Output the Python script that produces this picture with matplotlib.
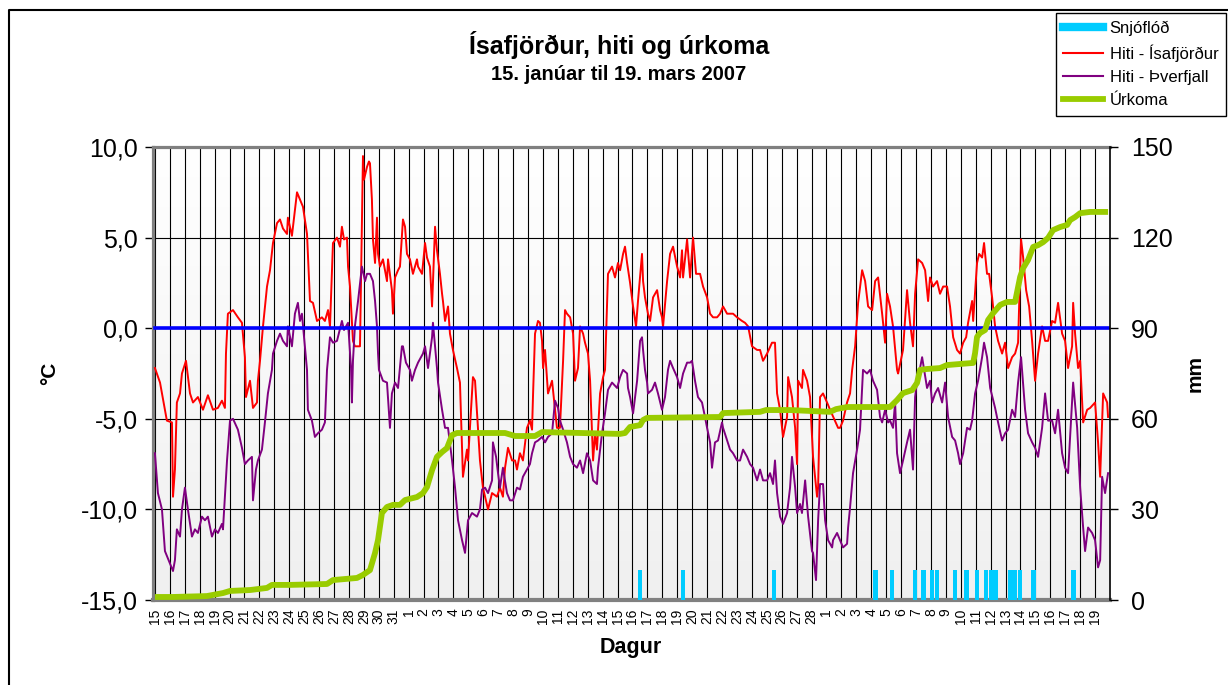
import numpy as np
import matplotlib
matplotlib.use("Agg")
import matplotlib.pyplot as plt
from matplotlib.lines import Line2D

plt.rcParams['font.family'] = ['Liberation Sans', 'DejaVu Sans']

# ---------------- data (time in days since 15 Jan 2007 00:00) ----------------
day_labels = [str(d) for d in range(15, 32)] + [str(d) for d in range(1, 29)] + [str(d) for d in range(1, 20)]

# Hiti - Ísafjörður (°C)
red_points = [
    (0, -2.2), (0.34, -3.0), (0.80, -5.1), (1.14, -5.2), (1.21, -9.3), (1.34, -7.8), (1.47, -4.1), (1.68, -3.6),
    (1.81, -2.5), (2.08, -1.8), (2.35, -3.6), (2.55, -4.1), (2.88, -3.8), (3.22, -4.5), (3.55, -3.7), (3.89, -4.5),
    (4.22, -4.4), (4.49, -4.0), (4.69, -4.4), (4.76, -1.4), (4.89, 0.8), (5.23, 1.0), (5.56, 0.6), (5.83, 0.3),
    (6.03, -1.6), (6.10, -3.8), (6.37, -2.9), (6.57, -4.4), (6.84, -4.1), (6.90, -2.9), (7.04, -1.8), (7.24, 0.1),
    (7.51, 2.3), (7.71, 3.2), (7.91, 4.7), (8.18, 5.8), (8.38, 6.0), (8.58, 5.5), (8.85, 5.2), (8.91, 6.1),
    (9.18, 5.1), (9.52, 7.5), (9.72, 7.1), (9.92, 6.7), (10.19, 5.2), (10.39, 1.5), (10.59, 1.4), (10.86, 0.4),
    (11.19, 0.6), (11.39, 0.4), (11.60, 1.0), (11.73, 0.1), (11.93, 4.7), (12.20, 5.0), (12.40, 4.5), (12.53, 5.6),
    (12.67, 4.9), (12.87, 5.0), (12.94, 3.4), (13.07, 2.3), (13.27, -0.7), (13.40, -1.0), (13.74, -1.0), (13.94, 9.5),
    (14.01, 8.2), (14.21, 8.9), (14.34, 9.2), (14.41, 9.1), (14.54, 7.1), (14.61, 4.9), (14.75, 3.6), (14.88, 6.1),
    (14.95, 4.1), (15.08, 3.4), (15.28, 3.8), (15.55, 2.6), (15.62, 3.8), (15.88, 2.1), (15.95, 0.8), (16.09, 2.8),
    (16.29, 3.2), (16.42, 3.4), (16.62, 6.0), (16.76, 5.6), (16.89, 4.1), (17.09, 3.8), (17.29, 3.0), (17.56, 3.8),
    (17.63, 3.4), (17.90, 3.0), (18.10, 4.7), (18.23, 3.9), (18.43, 3.4), (18.57, 1.2), (18.77, 5.6), (18.90, 4.3),
    (19.10, 3.0), (19.24, 1.9), (19.30, 1.5), (19.44, 0.4), (19.64, 1.2), (19.77, -0.3), (19.97, -1.2), (20.24, -2.2),
    (20.44, -3.0), (20.64, -8.2), (20.91, -6.7), (20.98, -7.3), (21.31, -2.7), (21.45, -2.9), (21.78, -7.3), (21.98, -8.8),
    (22.32, -10.0), (22.59, -9.1), (22.92, -9.3), (23.12, -8.8), (23.32, -9.3), (23.46, -7.7), (23.66, -6.6), (23.93, -7.3),
    (24.13, -7.3), (24.26, -7.8), (24.46, -6.9), (24.66, -7.3), (24.93, -5.5), (25.13, -5.1), (25.27, -5.6), (25.34, -3.6),
    (25.47, -0.3), (25.67, 0.4), (25.80, 0.3), (25.94, -0.7), (26.01, -2.2), (26.14, -1.2), (26.34, -3.6), (26.61, -2.9),
    (26.94, -5.5), (27.14, -5.5), (27.35, -1.8), (27.48, 1.0), (27.61, 0.8), (27.82, 0.6), (28.02, -0.3), (28.15, -2.9),
    (28.35, -2.2), (28.49, 0.1), (28.69, -0.3), (28.82, -0.8), (29.02, -1.4), (29.16, -2.9), (29.29, -5.8), (29.36, -7.3),
    (29.49, -5.8), (29.62, -6.7), (29.83, -3.6), (30.03, -2.7), (30.16, -2.3), (30.36, 3.0), (30.63, 3.4), (30.83, 2.8),
    (31.03, 3.6), (31.17, 3.2), (31.37, 4.1), (31.50, 4.5), (31.64, 3.6), (31.84, 2.5), (32.04, 1.2), (32.24, 0.1),
    (32.37, 1.5), (32.64, 4.1), (32.71, 2.6), (32.84, 1.7), (33.04, 0.8), (33.18, 0.4), (33.38, 1.7), (33.65, 2.1),
    (33.85, 1.0), (33.98, 0.6), (34.05, 0.1), (34.32, 2.6), (34.52, 4.1), (34.72, 4.5), (34.99, 3.4), (35.19, 2.8),
    (35.32, 4.3), (35.39, 2.8), (35.66, 4.9), (35.86, 2.8), (36.06, 5.0), (36.26, 3.0), (36.53, 3.0), (36.73, 2.3),
    (37.00, 1.7), (37.20, 0.8), (37.40, 0.6), (37.67, 0.6), (37.87, 0.8), (38.07, 1.2), (38.34, 0.8), (38.74, 0.8),
    (39.01, 0.6), (39.34, 0.4), (39.54, 0.3), (39.75, 0.1), (40.01, -1.0), (40.35, -1.2), (40.55, -1.2), (40.75, -1.8),
    (41.02, -1.4), (41.35, -0.8), (41.55, -0.8), (41.69, -3.6), (41.89, -4.5), (42.09, -6.0), (42.36, -4.9), (42.43, -2.7),
    (42.69, -3.8), (42.90, -5.5), (43.03, -7.5), (43.10, -2.9), (43.36, -3.3), (43.43, -2.3), (43.70, -2.9), (43.90, -3.8),
    (44.10, -7.1), (44.37, -9.3), (44.44, -8.8), (44.57, -3.8), (44.77, -3.6), (45.04, -4.1), (45.24, -4.5), (45.78, -5.5),
    (45.91, -5.5), (46.11, -5.1), (46.38, -4.1), (46.58, -3.6), (46.72, -2.3), (46.92, -1.0), (47.12, 1.4), (47.39, 3.2),
    (47.59, 2.6), (47.79, 1.2), (48.06, 1.0), (48.26, 2.6), (48.46, 2.8), (48.73, 0.8), (48.93, -0.8), (49.06, 1.9),
    (49.26, 1.2), (49.46, 0.1), (49.73, -2.3), (49.80, -2.5), (50.13, -1.2), (50.40, 2.1), (50.60, 0.3), (50.80, -1.0),
    (50.94, 1.9), (51.14, 3.8), (51.41, 3.6), (51.61, 3.2), (51.81, 1.5), (51.94, 2.8), (52.14, 2.3), (52.41, 2.6),
    (52.61, 1.9), (52.82, 2.3), (53.08, 2.3), (53.28, 1.2), (53.49, -0.5), (53.75, -1.2), (53.95, -1.4), (54.16, -0.8),
    (54.36, -0.5), (54.49, 0.3), (54.76, 1.5), (54.83, 0.4), (55.09, 3.6), (55.23, 4.1), (55.43, 3.9), (55.56, 4.7),
    (55.76, 3.0), (55.90, 3.0), (56.10, 1.7), (56.30, 0.1), (56.50, -0.7), (56.77, -1.4), (56.97, -0.8), (57.17, -2.2),
    (57.44, -1.6), (57.64, -1.4), (57.84, -0.8), (58.04, 4.9), (58.18, 3.9), (58.38, 2.1), (58.58, 1.2), (58.78, -0.7),
    (58.98, -2.9), (59.18, -1.4), (59.45, 0.1), (59.65, -0.7), (59.85, -0.7), (60.12, 0.4), (60.32, 0.3), (60.52, 1.4),
    (60.79, -0.3), (60.99, -0.7), (61.19, -2.2), (61.46, -1.0), (61.53, 1.4), (61.66, -0.3), (61.86, -2.2), (62.00, -1.8),
    (62.20, -5.2), (62.47, -4.5), (62.67, -4.4), (63.00, -4.1), (63.20, -6.3), (63.34, -8.2), (63.54, -3.6), (63.81, -4.1),
    (63.87, -4.9),
]

# Hiti - Þverfjall (°C)
purple_points = [
    (0, -6.9), (0.20, -9.1), (0.47, -10.0), (0.67, -12.3), (1.01, -13.0), (1.21, -13.4), (1.34, -12.8), (1.47, -11.1),
    (1.68, -11.5), (1.81, -10.0), (2.01, -8.8), (2.21, -10.0), (2.48, -11.5), (2.68, -11.1), (2.88, -11.3), (3.15, -10.4),
    (3.35, -10.6), (3.55, -10.4), (3.82, -11.5), (4.02, -11.1), (4.22, -11.3), (4.49, -10.8), (4.56, -11.1), (4.83, -7.3),
    (5.03, -5.1), (5.23, -5.0), (5.56, -5.6), (5.83, -6.6), (6.03, -7.5), (6.23, -7.3), (6.50, -7.1), (6.57, -9.5),
    (6.77, -7.8), (6.90, -7.3), (7.17, -6.7), (7.37, -5.2), (7.57, -3.6), (7.84, -2.3), (7.91, -1.4), (8.18, -0.7),
    (8.38, -0.3), (8.58, -0.7), (8.85, -1.0), (8.91, 0.1), (9.18, -1.0), (9.38, 0.8), (9.58, 1.4), (9.72, 0.4),
    (9.85, 0.8), (10.05, -1.0), (10.19, -2.3), (10.25, -4.5), (10.52, -5.1), (10.72, -6.0), (10.92, -5.8), (11.19, -5.6),
    (11.39, -5.2), (11.53, -2.3), (11.73, -0.5), (11.93, -0.8), (12.20, -0.7), (12.53, 0.4), (12.67, -0.1), (12.94, 0.3),
    (13.14, -2.2), (13.20, -4.1), (13.27, -1.8), (13.40, 0.1), (13.61, 1.5), (13.87, 3.4), (14.08, 2.6), (14.21, 3.0),
    (14.41, 3.0), (14.61, 2.6), (14.75, 1.5), (14.88, 0.1), (14.95, -1.4), (15.01, -2.3), (15.28, -2.9), (15.55, -3.0),
    (15.75, -5.5), (15.88, -3.6), (16.09, -3.0), (16.29, -3.3), (16.55, -1.0), (16.62, -1.0), (16.82, -1.9), (17.09, -2.3),
    (17.22, -2.9), (17.43, -2.3), (17.63, -1.9), (17.96, -1.4), (18.10, -1.0), (18.30, -2.2), (18.57, -0.5), (18.63, 0.3),
    (18.77, -1.0), (18.90, -2.2), (18.97, -3.0), (19.24, -4.5), (19.44, -5.5), (19.64, -5.5), (19.91, -7.3), (20.11, -8.8),
    (20.31, -10.6), (20.58, -11.7), (20.78, -12.4), (20.98, -10.6), (21.25, -10.2), (21.58, -10.4), (21.78, -10.0), (21.92, -8.9),
    (22.12, -8.8), (22.32, -9.1), (22.59, -8.4), (22.65, -6.3), (22.86, -7.1), (22.99, -8.0), (23.12, -8.8), (23.32, -7.7),
    (23.59, -9.1), (23.79, -9.5), (23.99, -9.5), (24.26, -8.8), (24.46, -8.9), (24.66, -8.2), (24.93, -7.8), (25.13, -7.5),
    (25.27, -6.9), (25.47, -6.3), (25.67, -6.2), (25.94, -6.0), (26.14, -6.3), (26.34, -6.0), (26.61, -5.8), (26.81, -4.0),
    (27.01, -4.4), (27.14, -5.1), (27.35, -5.6), (27.61, -6.3), (27.82, -7.1), (28.02, -7.5), (28.28, -7.7), (28.49, -7.3),
    (28.69, -8.0), (28.95, -6.9), (29.16, -7.3), (29.36, -8.4), (29.62, -8.6), (29.69, -7.7), (29.96, -5.8), (30.16, -4.7),
    (30.36, -3.4), (30.63, -3.0), (30.97, -3.3), (31.17, -2.7), (31.37, -2.3), (31.64, -2.5), (31.70, -3.3), (31.84, -3.8),
    (32.04, -4.7), (32.31, -2.9), (32.51, -0.7), (32.64, -0.5), (32.71, -1.2), (32.84, -2.3), (32.98, -3.0), (33.04, -3.6),
    (33.31, -3.4), (33.51, -3.0), (33.71, -3.6), (33.98, -4.5), (34.18, -3.8), (34.38, -2.3), (34.52, -1.8), (34.72, -2.2),
    (34.99, -2.7), (35.19, -3.3), (35.39, -2.5), (35.66, -1.9), (35.86, -1.9), (35.99, -1.8), (36.19, -2.9), (36.39, -3.8),
    (36.66, -4.1), (36.86, -4.9), (37.00, -5.5), (37.20, -6.3), (37.33, -7.7), (37.53, -6.3), (37.73, -6.2), (38.00, -5.2),
    (38.07, -5.5), (38.34, -6.2), (38.54, -6.7), (38.74, -6.9), (39.01, -7.3), (39.21, -7.3), (39.41, -6.7), (39.68, -7.1),
    (39.88, -7.5), (40.08, -7.7), (40.35, -8.4), (40.55, -7.8), (40.75, -8.4), (41.02, -8.4), (41.22, -8.0), (41.42, -8.6),
    (41.55, -7.3), (41.69, -9.1), (41.89, -10.4), (42.09, -10.8), (42.36, -10.2), (42.56, -8.8), (42.69, -7.1), (42.90, -8.8),
    (43.03, -10.2), (43.23, -9.7), (43.36, -10.2), (43.57, -8.4), (43.77, -10.4), (44.03, -12.3), (44.10, -12.4), (44.30, -13.9),
    (44.44, -10.6), (44.57, -8.6), (44.77, -8.6), (44.91, -10.6), (45.11, -11.7), (45.38, -12.1), (45.44, -11.7), (45.71, -11.3),
    (45.91, -11.7), (46.11, -12.1), (46.38, -11.9), (46.45, -11.0), (46.58, -9.9), (46.78, -8.0), (47.05, -6.7), (47.25, -5.6),
    (47.45, -2.3), (47.72, -2.5), (47.92, -2.3), (48.12, -2.9), (48.39, -3.4), (48.59, -4.9), (48.73, -5.2), (48.93, -4.5),
    (49.13, -5.2), (49.26, -5.1), (49.46, -5.5), (49.60, -4.1), (49.73, -6.9), (49.93, -8.0), (50.13, -7.3), (50.40, -6.3),
    (50.60, -5.6), (50.80, -7.8), (50.94, -3.8), (51.07, -2.9), (51.27, -2.2), (51.41, -1.6), (51.74, -3.3), (51.94, -2.9),
    (52.08, -4.1), (52.28, -3.6), (52.48, -3.3), (52.75, -4.1), (52.95, -3.0), (53.15, -4.9), (53.42, -6.0), (53.62, -6.2),
    (53.82, -6.9), (53.95, -7.5), (54.16, -6.9), (54.42, -5.5), (54.62, -5.6), (54.76, -5.1), (54.96, -3.6), (55.16, -2.9),
    (55.43, -1.6), (55.56, -0.8), (55.76, -1.6), (55.97, -3.3), (56.30, -4.4), (56.50, -5.2), (56.77, -6.2), (56.97, -5.8),
    (57.17, -5.6), (57.44, -4.5), (57.64, -4.9), (57.84, -3.0), (58.04, -1.6), (58.31, -4.5), (58.51, -5.8), (58.78, -6.3),
    (58.98, -6.6), (59.18, -7.1), (59.45, -5.5), (59.65, -3.6), (59.85, -5.1), (60.12, -5.1), (60.32, -5.8), (60.52, -4.5),
    (60.79, -6.9), (60.99, -7.7), (61.19, -8.0), (61.53, -3.0), (61.80, -5.5), (62.00, -8.8), (62.20, -11.0), (62.33, -12.3),
    (62.53, -11.0), (62.80, -11.3), (63.00, -11.7), (63.20, -13.2), (63.34, -12.8), (63.47, -8.2), (63.67, -9.1), (63.87, -8.0),
]

# Úrkoma, cumulative precipitation (mm)
rain_points = [
    (0, 1.0), (1.21, 1.0), (3.48, 1.3), (4.56, 2.3), (5.03, 3.0), (6.37, 3.3), (7.51, 4.0), (7.84, 5.0),
    (9.05, 5.0), (11.53, 5.3), (11.93, 6.6), (13.54, 7.3), (13.94, 8.3), (14.41, 9.9), (14.75, 15.6), (14.95, 19.9),
    (15.21, 28.8), (15.55, 30.8), (15.95, 31.5), (16.42, 31.5), (16.76, 33.1), (17.56, 34.1), (17.96, 35.4), (18.23, 37.4),
    (18.57, 43.0), (18.90, 47.4), (19.24, 49.0), (19.57, 50.3), (19.91, 54.6), (20.24, 55.3), (23.46, 55.3), (24.13, 54.3),
    (25.47, 54.3), (25.94, 55.6), (31.17, 55.0), (31.50, 55.3), (31.84, 57.3), (32.51, 57.9), (32.71, 59.6), (32.98, 60.3),
    (37.87, 60.6), (38.07, 61.9), (40.55, 62.3), (40.95, 62.9), (42.56, 62.9), (45.24, 62.3), (45.64, 63.2), (46.38, 63.9),
    (49.26, 63.9), (49.73, 66.2), (50.13, 68.5), (50.74, 69.5), (51.07, 71.9), (51.27, 76.2), (51.74, 76.5), (52.61, 76.8),
    (53.08, 77.8), (54.83, 78.5), (54.96, 81.8), (55.09, 87.1), (55.29, 88.4), (55.63, 89.4), (55.83, 92.7), (56.17, 95.0),
    (56.64, 97.7), (57.10, 98.7), (57.64, 98.7), (57.84, 103.6), (57.98, 107.0), (58.18, 109.9), (58.51, 112.6), (58.85, 116.9),
    (59.18, 117.5), (59.52, 118.5), (59.85, 119.9), (60.19, 122.5), (60.66, 123.5), (61.13, 124.2), (61.33, 125.8), (61.66, 126.8),
    (62.00, 128.1), (62.67, 128.5), (63.87, 128.5),
]

# Snjóflóð (avalanche events), time in days, marker height in mm-axis units
snow_t = [32.50, 35.37, 41.49, 48.30, 49.38, 50.94, 51.49, 52.06, 52.39, 53.62, 54.38, 55.07, 55.70,
          56.05, 56.35, 57.33, 57.64, 57.96, 58.87, 61.55]
snow_h = [10] * len(snow_t)

labels = ['Snjóflóð', 'Hiti - Ísafjörður', 'Hiti - Þverfjall', 'Úrkoma']

red_t, red_v = np.array(red_points).T
pur_t, pur_v = np.array(purple_points).T
rain_t, rain_v = np.array(rain_points).T

# ---------------- figure ----------------
W, H = 1228, 685
fig = plt.figure(figsize=(W / 100, H / 100), dpi=100)
fig.patch.set_facecolor('white')

ax = fig.add_axes([153 / W, 1 - 600 / H, 957 / W, 453 / H])
ax.set_facecolor('white')

# gradient background of the plot area
grad = np.linspace(0.94, 1.0, 256).reshape(-1, 1)
ax.imshow(np.dstack([grad, grad, grad]), extent=[0, 1, 1, 0], transform=ax.transAxes,
          aspect='auto', zorder=0, interpolation='bilinear')

ax.set_xlim(-0.13, 64.0)
ax.set_ylim(-15, 10)

ax.set_xticks(np.arange(len(day_labels)))
ax.set_xticklabels(day_labels, rotation=90, fontsize=10)
ax.tick_params(axis='x', length=0, pad=6)
yt = np.arange(-15, 11, 5)
ax.set_yticks(yt)
ax.set_yticklabels([f"{v:.1f}".replace('.', ',') for v in yt], fontsize=18)
ax.tick_params(axis='y', length=6, width=1, color='black', pad=5, direction='out')

ax.grid(True, axis='both', color='black', linewidth=0.8, zorder=1)
ax.set_axisbelow(True)

for s in ['left', 'top', 'bottom']:
    ax.spines[s].set_color('#808080')
    ax.spines[s].set_linewidth(2.3)
ax.spines['bottom'].set_linewidth(3)
ax.spines['right'].set_visible(False)

ax.plot(red_t, red_v, color='#FF0000', lw=1.4, zorder=3)
ax.plot(pur_t, pur_v, color='#800080', lw=1.4, zorder=3)
ax.plot(red_t, np.zeros_like(red_t), color='#0000FF', lw=2.6, zorder=4)

ax2 = ax.twinx()
ax2.set_ylim(0, 150)
ax2.set_xlim(-0.13, 64.0)
yt2 = np.arange(0, 151, 30)
ax2.set_yticks(yt2)
ax2.set_yticklabels([str(v) for v in yt2], fontsize=18)
ax2.tick_params(axis='y', length=6, width=1, color='black', pad=9, direction='out')
for s in ['left', 'top', 'bottom']:
    ax2.spines[s].set_visible(False)
ax2.spines['right'].set_color('black')
ax2.spines['right'].set_linewidth(1.2)

ax2.bar(snow_t, snow_h, width=0.3, color='#00CCFF', zorder=2, linewidth=0)
ax2.plot(rain_t, rain_v, color='#99CC00', lw=4.2, zorder=3, solid_capstyle='butt')

# texts
fig.text(619 / W, 1 - 45 / H, 'Ísafjörður, hiti og úrkoma', ha='center', va='center',
         fontsize=18, fontweight='bold')
fig.text(619 / W, 1 - 75 / H, '15. janúar til 19. mars 2007', ha='center', va='center',
         fontsize=14.5, fontweight='bold')
fig.text(50 / W, 1 - 373 / H, '°C', rotation=90, ha='center', va='center',
         fontsize=15, fontweight='bold')
fig.text(1195 / W, 1 - 373 / H, 'mm', rotation=90, ha='center', va='center',
         fontsize=15, fontweight='bold')
fig.text(631 / W, 1 - 647 / H, 'Dagur', ha='center', va='center',
         fontsize=15.5, fontweight='bold')

# outer chart border
fig.add_artist(Line2D([9 / W, 9 / W, 1.0], [0.0, 1 - 10 / H, 1 - 10 / H],
                      transform=fig.transFigure, color='black', lw=1.5))

# legend
handles = [Line2D([], [], color='#00CCFF', lw=6),
           Line2D([], [], color='#FF0000', lw=1.5),
           Line2D([], [], color='#800080', lw=1.5),
           Line2D([], [], color='#99CC00', lw=4.2)]
leg = fig.legend(handles, labels, loc='upper right', bbox_to_anchor=(1226 / W, 1 - 13 / H),
                 fontsize=12, frameon=True, fancybox=False, edgecolor='black', framealpha=1,
                 borderaxespad=0, handlelength=2.4, handletextpad=0.4, labelspacing=0.5,
                 borderpad=0.45)
leg.get_frame().set_linewidth(1)

fig.savefig('out.png', dpi=100)
